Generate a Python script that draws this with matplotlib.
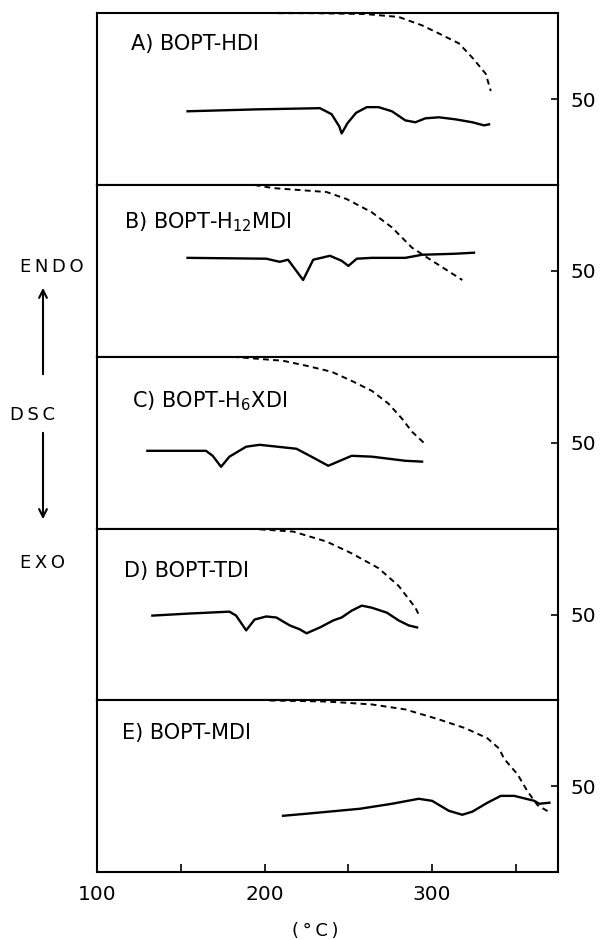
import matplotlib.pyplot as plt
from matplotlib.patches import FancyArrowPatch

# values: temperature (C) and a 0-100 scale
# (right axis, 50 marked); dashed = TGA, solid = DSC
labels = ['A) BOPT-HDI', r'B) BOPT-H$_{12}$MDI', r'C) BOPT-H$_{6}$XDI',
          'D) BOPT-TDI', 'E) BOPT-MDI']

a_tga_t = [208, 230, 260, 280, 294, 304, 316, 324, 332, 335]
a_tga_v = [100, 100, 99.5, 97.8, 92.9, 88.2, 82.4, 74.1, 64.7, 54.7]
a_dsc_t = [154, 195, 233, 240, 244.6, 246, 249.5, 254.6, 261, 268, 276, 284, 290, 296, 304, 314, 324, 331, 334]
a_dsc_v = [42.9, 44, 44.7, 41.2, 34, 30, 36, 42, 45.3, 45.3, 42.9, 37.6, 36.5, 38.8, 39.4, 38.2, 36.5, 34.7, 35.3]

b_tga_t = [194, 205, 237, 249, 264, 276, 288, 300, 318]
b_tga_v = [100, 98.2, 95.9, 91.8, 84.1, 75.3, 63.5, 55.9, 44.7]
b_dsc_t = [154, 201, 209, 214, 223, 229, 239, 246, 250, 255, 264, 284, 294, 314, 325]
b_dsc_v = [57.6, 57.1, 55.3, 56.5, 44.7, 56.5, 58.8, 55.9, 52.9, 57.1, 57.6, 57.6, 59.4, 60, 60.6]

c_tga_t = [181, 211, 225, 240, 252, 264, 274, 282, 288, 295]
c_tga_v = [100, 97.7, 94.8, 91.3, 86, 80.2, 72.7, 64, 56.4, 50]
c_dsc_t = [130, 165, 169, 174, 179, 189, 197, 219, 227, 238, 245, 252, 264, 284, 294]
c_dsc_v = [45.3, 45.3, 42.4, 36, 41.9, 47.7, 48.8, 46.5, 42.4, 36.6, 39.5, 42.4, 41.9, 39.5, 39]

d_tga_t = [191, 217, 237, 252, 268, 280, 290, 292]
d_tga_v = [100, 98.3, 92.5, 85.6, 77, 66.7, 54, 50]
d_dsc_t = [133, 155, 179, 183, 189, 194, 201, 207, 215, 221, 225, 233, 241, 246, 252, 258, 264, 273, 280, 286, 291]
d_dsc_v = [49.4, 50.6, 51.7, 49.4, 40.8, 47.1, 48.9, 48.3, 43.7, 41.4, 39.1, 42.5, 46.6, 48.3, 52.3, 55.2, 54, 51.1, 46.6, 43.7, 42.5]

e_tga_t = [203, 237, 264, 284, 304, 320, 333, 340, 343, 351, 357, 363, 370]
e_tga_v = [100, 99.4, 97.7, 94.8, 89, 83.8, 78, 72, 66, 57, 47, 39, 35]
e_dsc_t = [211, 225, 257, 276, 292, 300, 310, 318, 324, 333, 341, 349, 361, 364, 370]
e_dsc_v = [32.9, 34.1, 37, 39.9, 42.8, 41.6, 35.8, 33.5, 35.3, 40.5, 44.5, 44.5, 41.6, 39.9, 40.5]

tga = [(a_tga_t, a_tga_v), (b_tga_t, b_tga_v), (c_tga_t, c_tga_v), (d_tga_t, d_tga_v), (e_tga_t, e_tga_v)]
dsc = [(a_dsc_t, a_dsc_v), (b_dsc_t, b_dsc_v), (c_dsc_t, c_dsc_v), (d_dsc_t, d_dsc_v), (e_dsc_t, e_dsc_v)]

# where each panel title sits (data coords, top-left of text)
label_pos = [(120, 88), (116, 85), (121, 81), (116, 81), (115, 87)]

plt.rcParams['font.family'] = 'DejaVu Sans'

fig = plt.figure(figsize=(6.03, 9.40), dpi=100)
axes = fig.subplots(5, 1, sharex=True, gridspec_kw={'hspace': 0})
fig.subplots_adjust(left=0.161, right=0.925, top=0.986, bottom=0.072)

for n, ax in enumerate(axes):
    ax.plot(*tga[n], color='black', lw=1.4, dashes=(3, 2.2))
    ax.plot(*dsc[n], color='black', lw=1.7)
    ax.text(*label_pos[n], labels[n], fontsize=15, ha='left', va='top')

    ax.set_ylim(0, 100)
    ax.set_yticks([50])
    ax.yaxis.tick_right()
    ax.tick_params(axis='y', direction='in', length=5, width=1.2, labelsize=14.5, pad=9)
    for sp in ax.spines.values():
        sp.set_linewidth(1.5)
    if n < 4:
        ax.tick_params(axis='x', bottom=False)

# bottom axis
ax = axes[-1]
ax.set_xlim(100, 375)
ax.set_xticks([100, 200, 300])
ax.set_xticks([150, 250, 350], minor=True)
ax.tick_params(axis='x', which='both', direction='in', length=6, width=1.2, labelsize=14.5, pad=9)

# left side annotation (letter-spaced like the original)
W, H = 603, 940
sp = '\u2009'
fig.text(52 / W, 1 - 267 / H, sp.join('ENDO'), fontsize=13, ha='center', va='center')
fig.text(33 / W, 1 - 415 / H, sp.join('DSC'), fontsize=13, ha='center', va='center')
fig.text(43 / W, 1 - 563 / H, sp.join('EXO'), fontsize=13, ha='center', va='center')
fig.add_artist(FancyArrowPatch((43 / W, 1 - 377 / H), (43 / W, 1 - 285 / H),
                               transform=fig.transFigure, arrowstyle='->',
                               mutation_scale=14, lw=1.5, color='black'))
fig.add_artist(FancyArrowPatch((43 / W, 1 - 430 / H), (43 / W, 1 - 522 / H),
                               transform=fig.transFigure, arrowstyle='->',
                               mutation_scale=14, lw=1.5, color='black'))

fig.text(315 / W, 1 - 931 / H, sp.join('(°C)'), fontsize=13, ha='center', va='center')

plt.savefig('out.png', dpi=100)
plt.close()
